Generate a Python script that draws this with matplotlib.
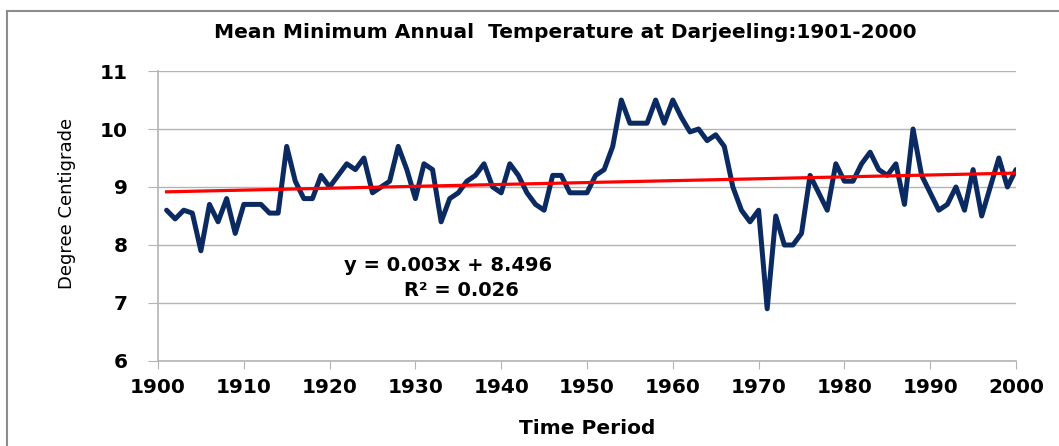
"""
Mean minimum annual temperature at Darjeeling, 1901-2000, with linear trend
"""
import numpy as np
import matplotlib
matplotlib.use('Agg')
import matplotlib.pyplot as plt
from matplotlib.lines import Line2D

# Data
years = list(range(1901, 2001))
temps = [8.6, 8.45, 8.6, 8.55, 7.9, 8.7, 8.4, 8.8, 8.2, 8.7,
         8.7, 8.7, 8.55, 8.55, 9.7, 9.1, 8.8, 8.8, 9.2, 9.0,
         9.2, 9.4, 9.3, 9.5, 8.9, 9.0, 9.1, 9.7, 9.3, 8.8,
         9.4, 9.3, 8.4, 8.8, 8.9, 9.1, 9.2, 9.4, 9.0, 8.9,
         9.4, 9.2, 8.9, 8.7, 8.6, 9.2, 9.2, 8.9, 8.9, 8.9,
         9.2, 9.3, 9.7, 10.5, 10.1, 10.1, 10.1, 10.5, 10.1, 10.5,
         10.2, 9.95, 10.0, 9.8, 9.9, 9.7, 9.0, 8.6, 8.4, 8.6,
         6.9, 8.5, 8.0, 8.0, 8.2, 9.2, 8.9, 8.6, 9.4, 9.1,
         9.1, 9.4, 9.6, 9.3, 9.2, 9.4, 8.7, 10.0, 9.2, 8.9,
         8.6, 8.7, 9.0, 8.6, 9.3, 8.5, 9.0, 9.5, 9.0, 9.3]

x_ticks = list(range(1900, 2001, 10))
y_ticks = [6, 7, 8, 9, 10, 11]

title = 'Mean Minimum Annual  Temperature at Darjeeling:1901-2000'
eq_text = 'y = 0.003x + 8.496'
r2_text = 'R² = 0.026'

line_color = '#0c2a62'
grid_color = '#b4b4b4'

fig = plt.figure(figsize=(10.59, 4.46), dpi=100)
ax = fig.add_axes([0.1492, 0.1906, 0.9594 - 0.1492, 0.8408 - 0.1906])

# outer chart frame (only top and left visible in the crop)
fig.add_artist(Line2D([7 / 1059, 7 / 1059], [0, 1 - 11 / 446], transform=fig.transFigure,
                      color='#8c8c8c', linewidth=1.5))
fig.add_artist(Line2D([7 / 1059, 1], [1 - 11 / 446, 1 - 11 / 446], transform=fig.transFigure,
                      color='#8c8c8c', linewidth=1.5))

ax.plot(years, temps, color=line_color, linewidth=3.6, solid_joinstyle='round',
        solid_capstyle='round', zorder=3)

# linear trend fitted to the series
coef = np.polyfit(years, temps, 1)
trend = np.polyval(coef, np.array(years))
ax.plot(years, trend, color='#ff0000', linewidth=2.3, zorder=4)

ax.set_xlim(1900, 2000)
ax.set_ylim(6, 11)
ax.set_xticks(x_ticks)
ax.set_yticks(y_ticks)
ax.grid(axis='y', color=grid_color, linewidth=1.0)
ax.set_axisbelow(True)

for side in ['top', 'right']:
    ax.spines[side].set_visible(False)
for side in ['left', 'bottom']:
    ax.spines[side].set_color(grid_color)
    ax.spines[side].set_linewidth(1.2)

ax.tick_params(axis='x', length=6, color=grid_color, pad=6, labelsize=14.5)
ax.tick_params(axis='y', length=7, color=grid_color, pad=15, labelsize=14.5)
for lbl in ax.get_xticklabels() + ax.get_yticklabels():
    lbl.set_fontweight('bold')

ax.set_xlabel('Time Period', fontsize=14.5, fontweight='bold', labelpad=16)
ax.set_ylabel('Degree Centigrade', fontsize=13)
ax.yaxis.set_label_coords(-0.096, 0.545)

fig.text(565 / 1059, 1 - 33 / 446, title, ha='center', va='center',
         fontsize=14.5, fontweight='bold')

ax.text(1933.8, 7.64, eq_text, ha='center', va='center', fontsize=14, fontweight='bold')
ax.text(1935.4, 7.21, r2_text, ha='center', va='center', fontsize=14, fontweight='bold')

plt.savefig('out.png', dpi=100)
plt.close()
